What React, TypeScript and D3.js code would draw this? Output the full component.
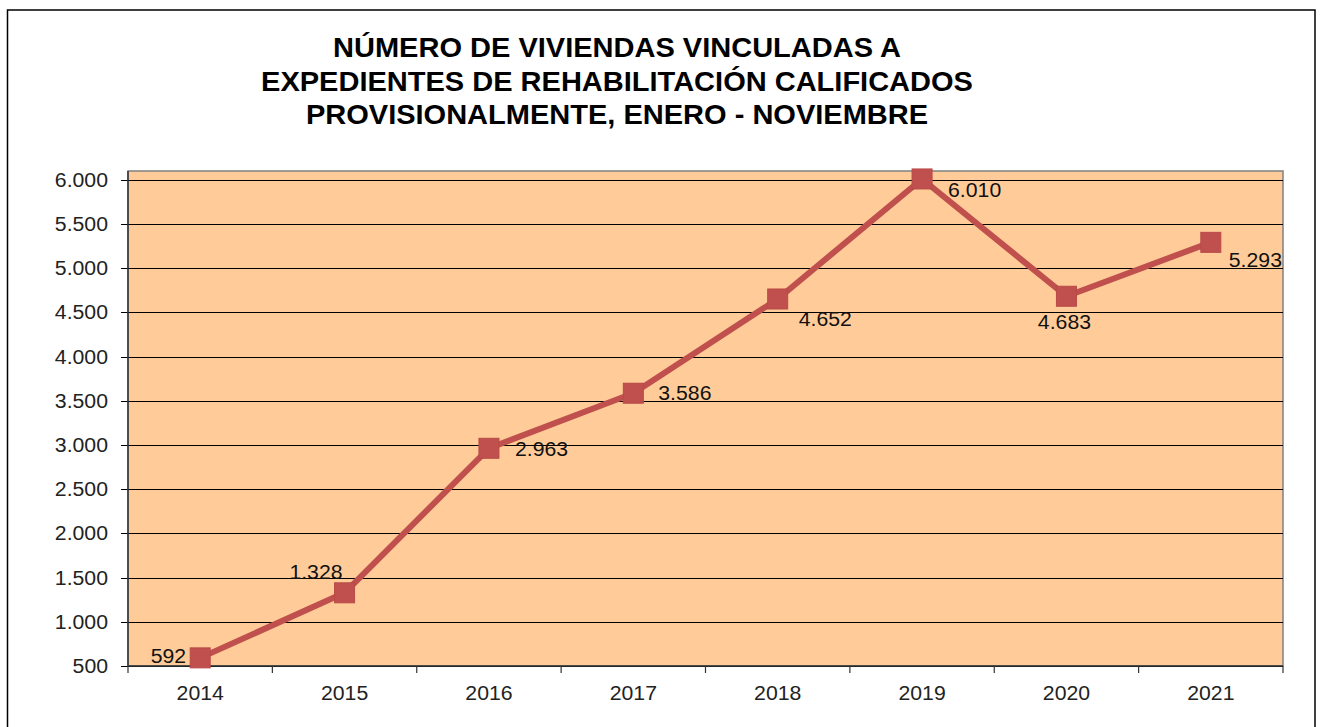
import React from "react";
import * as d3 from "d3";

const years = ["2014", "2015", "2016", "2017", "2018", "2019", "2020", "2021"];
const viviendas = [592, 1328, 2963, 3586, 4652, 6010, 4683, 5293];
const yTicks = [500, 1000, 1500, 2000, 2500, 3000, 3500, 4000, 4500, 5000, 5500, 6000];
const titleLines = [
  "NÚMERO DE VIVIENDAS VINCULADAS A",
  "EXPEDIENTES DE REHABILITACIÓN  CALIFICADOS",
  "PROVISIONALMENTE, ENERO - NOVIEMBRE",
];
// label placement per point (anchor, dx, dy)
const labelPlacement: [string, number, number][] = [
  ["end", -14, 5],
  ["end", -2, -14],
  ["start", 26, 8],
  ["start", 25, 7],
  ["start", 21, 27],
  ["start", 26, 18],
  ["middle", -2, 33],
  ["start", 18, 25],
];

const fmt = (v: number) => d3.format(",")(v).replace(/,/g, ".");

function SText(props: { x: number; y: number; anchor?: string; size: number; sx?: number; weight?: string; fill?: string; children: any }) {
  const { x, y, anchor = "start", size, sx = 1.09, weight = "normal", fill = "#222", children } = props;
  return (
    <text
      transform={`translate(${x},${y}) scale(${sx},1)`}
      textAnchor={anchor as any}
      fontSize={size}
      fontWeight={weight}
      fill={fill}
    >
      {children}
    </text>
  );
}

export default function App() {
  const W = 1322, H = 727;
  const left = 128, right = 1283, top = 171, bottom = 666;
  const x = d3.scaleBand<string>().domain(years).range([left, right]).paddingInner(0).paddingOuter(0);
  const y = d3.scaleLinear().domain([500, 6100]).range([bottom, top]);
  const cx = (d: string) => (x(d) as number) + x.bandwidth() / 2;
  const line = d3.line<number>().x((_, i) => cx(years[i])).y((v) => y(v));
  const font = "Arial, 'Liberation Sans', sans-serif";

  return (
    <svg width={W} height={H} style={{ position: "fixed", left: 0, top: 0, background: "#fff" }} fontFamily={font}>
      <rect x={7.5} y={10} width={1307.5} height={730} fill="#fff" stroke="#000" strokeWidth={1.5} />
      {titleLines.map((t, i) => (
        <SText key={i} x={617} y={57 + i * 33.5} anchor="middle" weight="bold" size={27} sx={1.075} fill="#000">
          {t}
        </SText>
      ))}
      <rect x={left} y={top} width={right - left} height={bottom - top} fill="#FFCC99" stroke="#808080" strokeWidth={1.5} />
      {yTicks.map((t) => (
        <g key={t}>
          <line x1={left - 7} x2={right} y1={Math.round(y(t)) + 0.5} y2={Math.round(y(t)) + 0.5} stroke="#000" strokeWidth={1} />
          <SText x={108} y={y(t) + 7} anchor="end" size={19.5}>
            {fmt(t)}
          </SText>
        </g>
      ))}
      <line x1={left} x2={left} y1={top} y2={bottom} stroke="#333" strokeWidth={1.5} />
      <line x1={left} x2={right} y1={bottom} y2={bottom} stroke="#333" strokeWidth={1.5} />
      {years.map((yr, i) => (
        <g key={yr}>
          <line x1={x(yr) as number} x2={x(yr) as number} y1={bottom} y2={bottom + 7} stroke="#333" strokeWidth={1.2} />
          {i === years.length - 1 && (
            <line x1={right} x2={right} y1={bottom} y2={bottom + 7} stroke="#333" strokeWidth={1.2} />
          )}
          <SText x={cx(yr)} y={700} anchor="middle" size={19.5}>
            {yr}
          </SText>
        </g>
      ))}
      <path d={line(viviendas) as string} fill="none" stroke="#C0504D" strokeWidth={6} strokeLinejoin="round" />
      {viviendas.map((v, i) => (
        <rect key={i} x={cx(years[i]) - 10} y={y(v) - 10} width={20} height={20} fill="#C0504D" stroke="#B84A47" strokeWidth={1} />
      ))}
      {viviendas.map((v, i) => {
        const [anchor, dx, dy] = labelPlacement[i];
        return (
          <SText key={i} x={cx(years[i]) + dx} y={y(v) + dy} anchor={anchor} size={19.5} fill="#111">
            {fmt(v)}
          </SText>
        );
      })}
    </svg>
  );
}
